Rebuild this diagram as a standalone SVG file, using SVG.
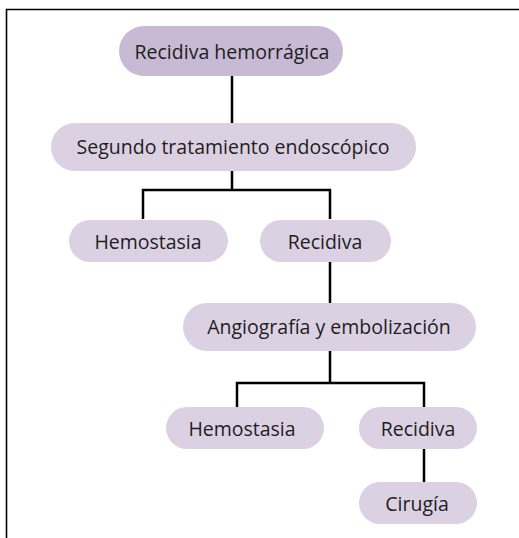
<svg xmlns="http://www.w3.org/2000/svg" width="519" height="538" viewBox="0 0 519 538">
<style>
.n rect{fill:#dcd1e3}
.n.top rect{fill:#c8b9d4}
.n text{font-family:"Open Sans","Liberation Sans",sans-serif;font-size:19.5px;fill:#1e1e1e;text-anchor:middle}
.c{fill:none;stroke:#000;stroke-width:2.5}
</style>
<rect width="519" height="538" fill="#fff"/>
<path d="M6.5 538 V9.5 H519" fill="none" stroke="#000" stroke-width="1.6"/>
<g id="connectors">
<path class="c" d="M232 76 V123"/>
<path class="c" d="M232 171 V190 M143 219 V190 H330 V219"/>
<path class="c" d="M330 262 V303"/>
<path class="c" d="M330 351 V383 M237 407 V383 H424 V407"/>
<path class="c" d="M424 449 V482"/>
</g>
<g id="n1" class="n top"><rect x="119" y="26" width="224" height="50" rx="25"/><text x="232" y="58.5">Recidiva hemorrágica</text></g>
<g id="n2" class="n"><rect x="51" y="123" width="365" height="48" rx="24"/><text x="233" y="154">Segundo tratamiento endoscópico</text></g>
<g id="n3" class="n"><rect x="69" y="220" width="159" height="42" rx="21"/><text x="148" y="248.5">Hemostasia</text></g>
<g id="n4" class="n"><rect x="260" y="220" width="131" height="42" rx="21"/><text x="325" y="248.5">Recidiva</text></g>
<g id="n5" class="n"><rect x="183" y="303" width="293" height="48" rx="24"/><text x="329" y="333.5">Angiografía y embolización</text></g>
<g id="n6" class="n"><rect x="166" y="407" width="158" height="42" rx="21"/><text x="242" y="435.5">Hemostasia</text></g>
<g id="n7" class="n"><rect x="359" y="407" width="118" height="42" rx="21"/><text x="418" y="435.5">Recidiva</text></g>
<g id="n8" class="n"><rect x="359" y="482" width="118" height="42" rx="21"/><text x="417" y="511">Cirugía</text></g>
</svg>
